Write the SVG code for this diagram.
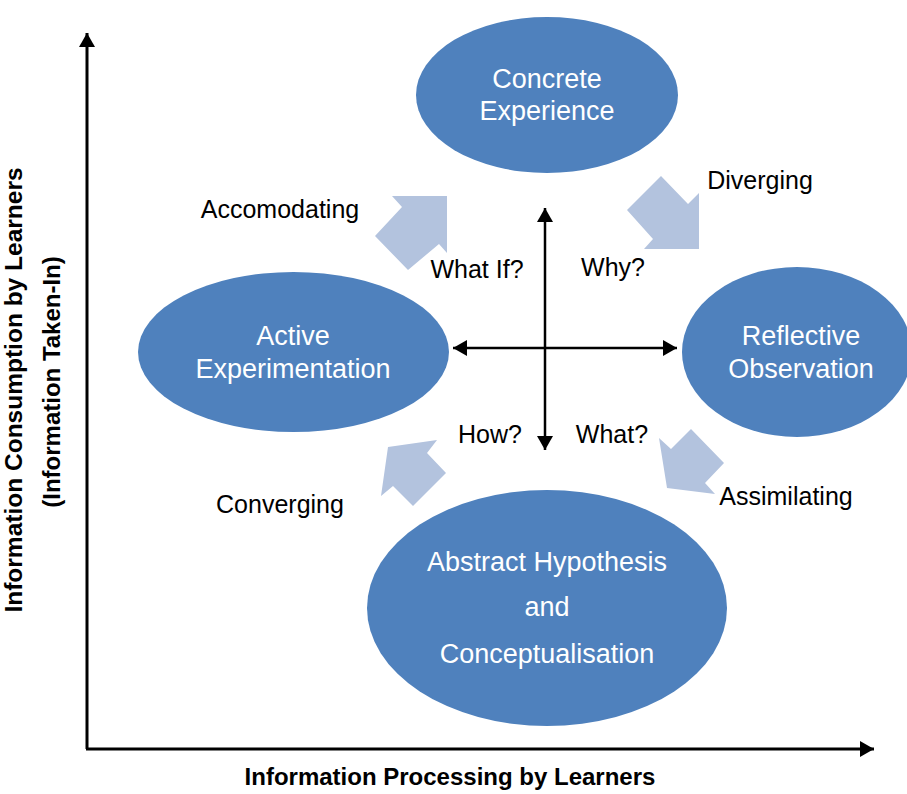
<svg xmlns="http://www.w3.org/2000/svg" width="907" height="794" viewBox="0 0 907 794">
<style>
.node{fill:#4F81BD;}
.nt{font-family:"Liberation Sans",Arial,sans-serif;font-size:27px;fill:#FFFFFF;text-anchor:middle;}
.lbl{font-family:"Liberation Sans",Arial,sans-serif;font-size:25px;fill:#000000;text-anchor:middle;}
.ax{font-family:"Liberation Sans",Arial,sans-serif;font-size:24px;font-weight:bold;fill:#000000;text-anchor:middle;}
.blk{fill:#B3C3DE;}
.axis{stroke:#000;stroke-width:3;fill:none;}
.cross{stroke:#000;stroke-width:2.5;fill:none;}
</style>
<defs>
<marker id="ah" viewBox="0 0 14 16" refX="14" refY="8" markerWidth="14" markerHeight="16" markerUnits="userSpaceOnUse" orient="auto-start-reverse">
<path d="M0,0 L14,8 L0,16 Z" fill="#000"/>
</marker>
</defs>
<rect width="907" height="794" fill="#FFFFFF"/>
<g id="connectors">
<line class="axis" x1="87" y1="749" x2="87" y2="33" marker-end="url(#ah)"/>
<line class="axis" x1="86" y1="749" x2="874" y2="749" marker-end="url(#ah)"/>
<line class="cross" x1="545" y1="450" x2="545" y2="208" marker-start="url(#ah)" marker-end="url(#ah)"/>
<line class="cross" x1="453" y1="348" x2="677" y2="348" marker-start="url(#ah)" marker-end="url(#ah)"/>
<polygon id="arrow-accomodating" class="blk" points="447,196 392,196 402,207 375,236 408,270 439,244 447,253"/>
<polygon id="arrow-diverging" class="blk" points="661,176 688,204 699,193 699,249 644,249 653,239 627,210"/>
<polygon id="arrow-assimilating" class="blk" points="667,488 659,438 671,449 691,429 724,463 705,483 715,494"/>
<polygon id="arrow-converging" class="blk" points="388,447 437,440 427,453 446,473 413,506 393,486 381,496"/>
</g>
<g id="concrete-experience">
<ellipse class="node" cx="547" cy="95" rx="131" ry="78"/>
<text class="nt" x="547" y="88">Concrete</text>
<text class="nt" x="547" y="120">Experience</text>
</g>
<g id="active-experimentation">
<ellipse class="node" cx="293.5" cy="352" rx="155.5" ry="80"/>
<text class="nt" x="293" y="345">Active</text>
<text class="nt" x="293" y="378">Experimentation</text>
</g>
<g id="reflective-observation">
<ellipse class="node" cx="797" cy="352" rx="115" ry="85"/>
<text class="nt" x="801" y="345">Reflective</text>
<text class="nt" x="801" y="378">Observation</text>
</g>
<g id="abstract-conceptualisation">
<ellipse class="node" cx="547" cy="608" rx="180" ry="118"/>
<text class="nt" x="547" y="571">Abstract Hypothesis</text>
<text class="nt" x="547" y="616">and</text>
<text class="nt" x="547" y="663">Conceptualisation</text>
</g>
<g id="labels">
<text class="lbl" x="280" y="218">Accomodating</text>
<text class="lbl" x="760" y="189">Diverging</text>
<text class="lbl" x="477" y="278">What If?</text>
<text class="lbl" x="613" y="276">Why?</text>
<text class="lbl" x="490" y="443">How?</text>
<text class="lbl" x="612" y="443">What?</text>
<text class="lbl" x="786" y="505">Assimilating</text>
<text class="lbl" x="280" y="513">Converging</text>
</g>
<g id="axis-labels">
<text class="ax" x="450" y="785">Information Processing by Learners</text>
<text class="ax" transform="translate(22,390) rotate(-90)" style="font-size:24.5px">Information Consumption by Learners</text>
<text class="ax" transform="translate(60,382) rotate(-90)">(Information Taken-In)</text>
</g>
</svg>
